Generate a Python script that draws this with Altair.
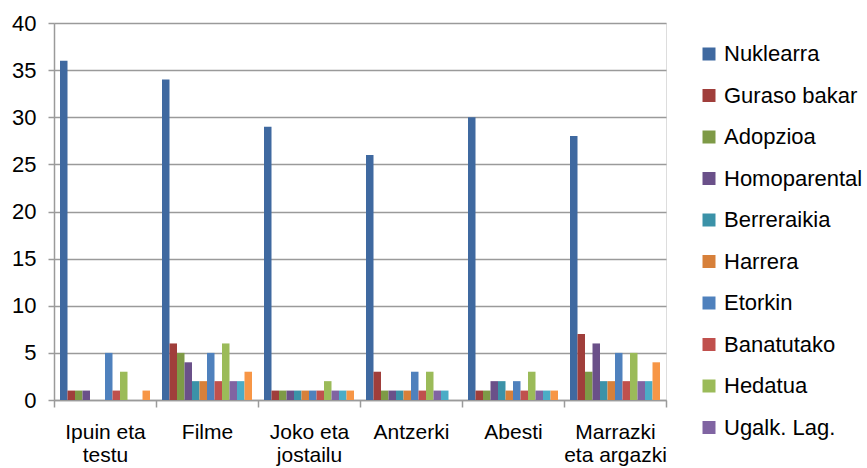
import altair as alt
import pandas as pd

categories = ["Ipuin eta testu", "Filme", "Joko eta jostailu", "Antzerki", "Abesti", "Marrazki eta argazki"]
category_lines = [["Ipuin eta", "testu"], ["Filme"], ["Joko eta", "jostailu"], ["Antzerki"], ["Abesti"], ["Marrazki", "eta argazki"]]

series = ["Nuklearra", "Guraso bakar", "Adopzioa", "Homoparental", "Berreraikia", "Harrera",
          "Etorkin", "Banatutako", "Hedatua", "Ugalk. Lag.", "Series 11", "Series 12"]
legend_series = series[:10]
colors = ["#3F69A0", "#A03E3B", "#7E9A46", "#6A5089", "#3B92A8", "#D7803A",
          "#4F81BD", "#C0504D", "#9BBB59", "#8064A2", "#4BACC6", "#F79646"]

values = {
    "Ipuin eta testu":      [36, 1, 1, 1, 0, 0, 5, 1, 3, 0, 0, 1],
    "Filme":                [34, 6, 5, 4, 2, 2, 5, 2, 6, 2, 2, 3],
    "Joko eta jostailu":    [29, 1, 1, 1, 1, 1, 1, 1, 2, 1, 1, 1],
    "Antzerki":             [26, 3, 1, 1, 1, 1, 3, 1, 3, 1, 1, 0],
    "Abesti":               [30, 1, 1, 2, 2, 1, 2, 1, 3, 1, 1, 1],
    "Marrazki eta argazki": [28, 7, 3, 6, 2, 2, 5, 2, 5, 2, 2, 4],
}

rows = []
for c in categories:
    for s, v in zip(series, values[c]):
        rows.append({"cat": c, "series": s, "value": v})
df = pd.DataFrame(rows)

expr = "''"
for c, lines in reversed(list(zip(categories, category_lines))):
    arr = "[" + ",".join("'" + l + "'" for l in lines) + "]"
    expr = f"datum.value == '{c}' ? {arr} : ({expr})"

FONT = "Liberation Sans"
GRID = "#9a9a9a"

chart = alt.Chart(df).mark_bar().encode(
    x=alt.X("cat:N", sort=categories, title=None,
            scale=alt.Scale(paddingInner=0, paddingOuter=0),
            axis=alt.Axis(labelAngle=0, labelExpr=expr, tickBand="extent",
                          labelFontSize=21, labelFont=FONT, labelColor="#000",
                          labelPadding=14, labelLineHeight=23, labelBaseline="top",
                          tickSize=7, tickColor=GRID, domainColor=GRID,
                          tickWidth=1.5, domainWidth=1.5, grid=False)),
    xOffset=alt.XOffset("series:N", sort=series,
                        scale=alt.Scale(paddingInner=0, paddingOuter=0.8)),
    y=alt.Y("value:Q", title=None,
            scale=alt.Scale(domain=[0, 40], nice=False),
            axis=alt.Axis(values=list(range(0, 41, 5)), labelFontSize=22, labelFont=FONT,
                          labelColor="#000", labelPadding=12, tickSize=6, tickColor=GRID,
                          tickWidth=1.5, domainColor=GRID, domainWidth=1.5,
                          grid=True, gridColor=GRID, gridWidth=1.5)),
    color=alt.Color("series:N", sort=series,
                    scale=alt.Scale(domain=series, range=colors),
                    legend=alt.Legend(title=None, values=legend_series, orient="none",
                                      legendX=644, legendY=20, symbolType="square",
                                      symbolSize=169, symbolStrokeWidth=0,
                                      labelFontSize=22, labelFont=FONT, labelColor="#000",
                                      rowPadding=19.5, labelOffset=4, labelLimit=300)),
).properties(
    width=612, height=377,
    autosize=alt.AutoSizeParams(type="none"),
    padding={"left": 54, "top": 23, "right": 201, "bottom": 68},
).configure_view(stroke=None).configure(background="white")

chart.save("out.html", embed_options={"renderer": "svg", "actions": False})
